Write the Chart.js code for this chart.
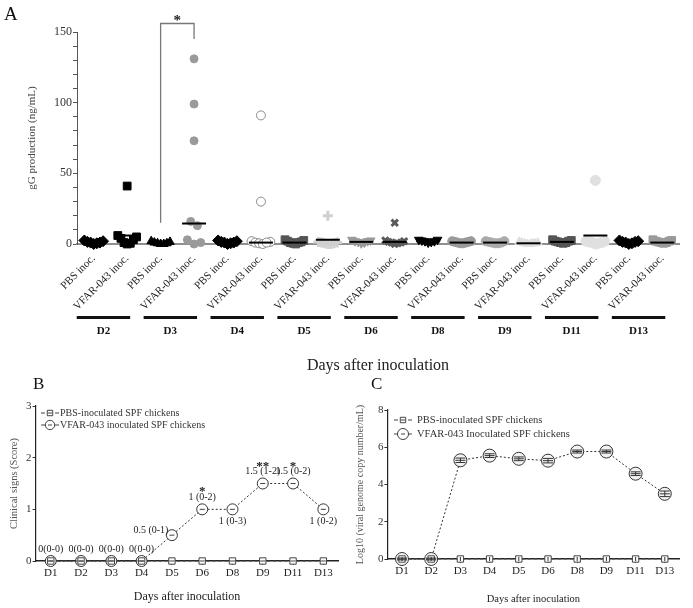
<!DOCTYPE html>
<html><head><meta charset="utf-8">
<script src="https://cdn.jsdelivr.net/npm/chart.js@4.4.1/dist/chart.umd.min.js"></script>
<style>
html,body{margin:0;padding:0;background:#fff;}
body{width:693px;height:608px;position:relative;overflow:hidden;font-family:'Liberation Serif',serif;}
.wrap{position:absolute;}
.plabel{position:absolute;font-family:'Liberation Serif',serif;color:#111;line-height:1;}
</style></head><body>
<div class="wrap" style="left:0;top:0;"><canvas id="cA" width="693" height="376"></canvas></div>
<div class="wrap" style="left:0;top:370px;"><canvas id="cB" width="345" height="238"></canvas></div>
<div class="wrap" style="left:345px;top:370px;"><canvas id="cC" width="348" height="238"></canvas></div>
<div class="plabel" style="left:4px;top:4px;font-size:19px;">A</div>
<div class="plabel" style="left:33px;top:375px;font-size:17px;">B</div>
<div class="plabel" style="left:371px;top:375px;font-size:17px;">C</div>
<script>
// ---------------- DATA ----------------
// Panel A: gG production (ng/mL), per day, individual birds
const dayLabelsA = ['D2','D3','D4','D5','D6','D8','D9','D11','D13'];
const inocLabels = ['PBS inoc.','VFAR-043 inoc.'];
const pbsGG = [
  [0, 1, 2, 1.5, 0.5, 2.5, 1],
  [0, 0.5, 1, 2, 0, 1.5, 0.5],
  [0.5, 1, 2, 1.5, 0, 2.5, 1],
  [0.5, 1, 2, 3, 1.5, 2.5, 0, 1],
  [1, 2, 3, 1.5, 2.5, 0.5, 2],
  [1, 2, 3, 2.5, 1.5, 3, 2],
  [0.5, 1, 2, 1.5, 1, 2, 0.5],
  [1, 2, 3, 2.5, 1.5, 2, 0.5, 1],
  [0.5, 1.5, 2.5, 1, 2, 0, 1.5]
];
const vfarGG = [
  [41, 6, 5, 4, 3, 1, 0.5, 0],
  [131, 99, 73, 16, 13, 3, 1, 0],
  [91, 30, 2, 1.5, 1, 0.5, 0, 1],
  [20, 1, 0.5, 0, 1.5, 0, 0.5, 1],
  [15, 2, 1.5, 1, 0.5, 2.5, 0, 1],
  [1, 2, 1.5, 0.5, 2, 1, 0.5, 1.5],
  [0.5, 1, 0, 1.5, 0.5, 1, 0, 0.5],
  [45, 2, 1.5, 1, 0.5, 0, 1, 2],
  [1, 2, 3, 1.5, 0.5, 2.5, 1, 2]
];
const pbsMedianGG  = [1, 0.5, 1, 1, 1.5, 2, 1, 1.5, 1.5];
const vfarMedianGG = [6, 14.5, 1, 3, 1.5, 1, 0.5, 6, 1];
const sigA = { from: 2, to: 3, lowLeft: 15, top: 156, lowRight: 145, mark: '*' };

// Panel B: clinical signs score (median)
const dayCats = ['D1','D2','D3','D4','D5','D6','D8','D9','D11','D13'];
const pbsScore  = [0, 0, 0, 0, 0, 0, 0, 0, 0, 0];
const vfarScore = [0, 0, 0, 0, 0.5, 1, 1, 1.5, 1.5, 1];
const scoreText = ['0(0-0)','0(0-0)','0(0-0)','0(0-0)','0.5 (0-1)','1 (0-2)','1 (0-3)','1.5 (1-2)','1.5 (0-2)','1 (0-2)'];
const scoreSig  = ['','','','','','*','','**','*',''];

// Panel C: Log10 viral genome copy number / mL
const pbsLoad  = [0, 0, 0, 0, 0, 0, 0, 0, 0, 0];
const vfarLoad = [0, 0, 5.3, 5.55, 5.38, 5.28, 5.77, 5.77, 4.58, 3.5];
const vfarLoadErr = [0.05, 0.05, 0.12, 0.1, 0.1, 0.12, 0.08, 0.08, 0.1, 0.15];

// ---------------- STYLES ----------------
const SERIF = "'Liberation Serif', serif";
Chart.defaults.font.family = SERIF;
Chart.defaults.color = '#222';
Chart.defaults.animation = false;

const pbsMarkers = [
  {s:'rectRot', f:'#000', r:5.5},
  {s:'triangle', f:'#000', r:5},
  {s:'rectRot', f:'#000', r:5.5},
  {s:'rect', f:'#555', r:5.5},
  {s:'triangle', f:'#999', r:5, rot:180},
  {s:'triangle', f:'#000', r:5, rot:180},
  {s:'circle', f:'#aaa', r:4.5},
  {s:'rect', f:'#555', r:5.5},
  {s:'rectRot', f:'#000', r:5.5}
];
const vfarMarkers = [
  {s:'rect', f:'#000', r:5.5},
  {s:'circle', f:'#9a9a9a', r:4},
  {s:'circle', f:'#fff', b:'#8a8a8a', r:4.5, bw:1},
  {s:'cross', f:'#ccc', b:'#cfcfcf', r:5, bw:3},
  {s:'crossRot', f:'#555', b:'#5a5a5a', r:4.5, bw:3},
  {s:'circle', f:'#9a9a9a', r:4.5},
  {s:'triangle', f:'#dedede', r:5},
  {s:'circle', f:'#e0e0e0', r:5},
  {s:'rect', f:'#9a9a9a', r:5.5}
];

// beeswarm-style horizontal spreading of close values around a category centre
function swarm(values, center) {
  const idx = values.map((v, i) => i).sort((a, b) => values[b] - values[a]);
  const out = new Array(values.length);
  let i = 0;
  while (i < idx.length) {
    let j = i;
    const start = values[idx[i]];
    while (j + 1 < idx.length && start - values[idx[j + 1]] < 7) j++;
    const n = j - i + 1;
    const step = n > 1 ? Math.min(0.2, 0.56 / (n - 1)) : 0;
    // slots alternate outer -> inner so the highest points sit at the edges
    const slots = [];
    let lo = 0, hi = n - 1;
    while (lo <= hi) { slots.push(lo++); if (lo <= hi) slots.push(hi--); }
    for (let k = 0; k < n; k++) {
      const vi = idx[i + k];
      out[vi] = { x: center + (slots[k] - (n - 1) / 2) * step, y: values[vi] };
    }
    i = j + 1;
  }
  return out;
}

// ---------------- PANEL A ----------------
const tickLabelsA = [];
dayLabelsA.forEach(() => tickLabelsA.push(inocLabels[0], inocLabels[1]));

const datasetsA = [];
dayLabelsA.forEach((d, k) => {
  [[pbsGG[k], pbsMarkers[k], inocLabels[0]], [vfarGG[k], vfarMarkers[k], inocLabels[1]]].forEach(([vals, m, lab], j) => {
    datasetsA.push({
      label: lab + ' ' + d,
      data: swarm(vals, 2 * k + j),
      pointStyle: m.s,
      pointRadius: m.r,
      pointRotation: m.rot || 0,
      backgroundColor: m.f,
      borderColor: m.b || m.f,
      borderWidth: m.bw || 1,
      clip: false,
      order: 2
    });
  });
});
const mediansA = [];
dayLabelsA.forEach((d, k) => { mediansA.push({x: 2 * k, y: pbsMedianGG[k]}, {x: 2 * k + 1, y: vfarMedianGG[k]}); });
datasetsA.push({
  label: 'Median', data: mediansA, pointStyle: 'line', pointRadius: 12,
  borderColor: '#000', backgroundColor: '#000', borderWidth: 2, clip: false, order: 0
});

const panelAPlugin = {
  id: 'panelA',
  afterDraw(chart) {
    const {ctx, scales: {x, y}} = chart;
    ctx.save();
    const barY = y.bottom + 72;
    dayLabelsA.forEach((d, k) => {
      const l = x.getPixelForValue(2 * k) - 17;
      const r = x.getPixelForValue(2 * k + 1) + 3;
      ctx.fillStyle = '#111';
      ctx.fillRect(l, barY, r - l, 3);
      ctx.font = 'bold 11px ' + SERIF;
      ctx.textAlign = 'center';
      ctx.textBaseline = 'middle';
      ctx.fillText(d, (l + r) / 2, barY + 15);
    });
    // significance bracket
    const x1 = x.getPixelForValue(sigA.from), x2 = x.getPixelForValue(sigA.to);
    const yt = y.getPixelForValue(sigA.top);
    ctx.strokeStyle = '#777';
    ctx.lineWidth = 1.3;
    ctx.beginPath();
    ctx.moveTo(x1, y.getPixelForValue(sigA.lowLeft));
    ctx.lineTo(x1, yt);
    ctx.lineTo(x2, yt);
    ctx.lineTo(x2, y.getPixelForValue(sigA.lowRight));
    ctx.stroke();
    ctx.fillStyle = '#222';
    ctx.font = 'bold 15px ' + SERIF;
    ctx.textAlign = 'center';
    ctx.textBaseline = 'alphabetic';
    ctx.fillText(sigA.mark, (x1 + x2) / 2, yt + 1);
    ctx.restore();
  }
};

new Chart(document.getElementById('cA'), {
  type: 'scatter',
  data: { datasets: datasetsA },
  options: {
    responsive: false,
    layout: { padding: { top: 32, right: 4, bottom: 1, left: 0 } },
    plugins: { legend: { display: false }, tooltip: { enabled: false } },
    scales: {
      x: {
        type: 'linear', min: -0.5, max: 17.5,
        afterBuildTicks: (axis) => { axis.ticks = tickLabelsA.map((_, i) => ({ value: i })); },
        afterFit: (axis) => { axis.height = 131; },
        ticks: {
          callback: (v) => tickLabelsA[v], autoSkip: false,
          minRotation: 45, maxRotation: 45, padding: 8,
          font: { size: 11 }, color: '#222'
        },
        grid: { display: false, drawTicks: false },
        border: { display: true, color: '#8f8f8f', width: 2 },
        title: { display: true, text: 'Days after inoculation', font: { size: 16 }, color: '#222', padding: { top: 0, bottom: 0 } }
      },
      y: {
        min: 0, max: 150,
        afterFit: (axis) => { axis.width = 77; },
        afterBuildTicks: (axis) => { const t = []; for (let v = 0; v <= 150; v += 10) t.push({ value: v }); axis.ticks = t; },
        ticks: { callback: (v) => (v % 50 === 0 ? v : ''), font: { size: 12 }, color: '#333', padding: 1, autoSkip: false },
        grid: { drawOnChartArea: false, drawTicks: true, tickLength: 4, color: '#555' },
        border: { display: true, color: '#555', width: 1 },
        title: { display: true, text: 'gG production (ng/mL)', font: { size: 11 }, color: '#444', padding: { top: 26, bottom: 0 } }
      }
    }
  },
  plugins: [panelAPlugin]
});

// ---------------- PANELS B & C helpers ----------------
function drawLegend(chart, cx, y0, gap, textX, fontPx) {
  const ctx = chart.ctx;
  ctx.save();
  chart.data.datasets.forEach((ds, i) => {
    const y = y0 + i * gap;
    ctx.strokeStyle = '#444';
    ctx.lineWidth = 1;
    ctx.setLineDash([]);
    ctx.beginPath();
    ctx.moveTo(cx - 9, y); ctx.lineTo(cx - 5, y);
    ctx.moveTo(cx + 5, y); ctx.lineTo(cx + 9, y);
    ctx.stroke();
    ctx.fillStyle = '#fff';
    Chart.helpers.drawPoint(ctx, { pointStyle: ds.pointStyle, radius: ds.pointRadius * 0.85, borderWidth: 1, rotation: 0 }, cx, y);
    ctx.beginPath(); ctx.moveTo(cx - 2, y); ctx.lineTo(cx + 2, y); ctx.stroke();
    ctx.fillStyle = '#333';
    ctx.font = fontPx + 'px ' + SERIF;
    ctx.textAlign = 'left';
    ctx.textBaseline = 'middle';
    ctx.fillText(ds.label, textX, y);
  });
  ctx.restore();
}
function drawInnerDash(chart, half) {
  const ctx = chart.ctx;
  ctx.save();
  ctx.strokeStyle = '#444';
  ctx.lineWidth = 1;
  chart.data.datasets.forEach((ds, i) => {
    chart.getDatasetMeta(i).data.forEach((pt) => {
      ctx.beginPath(); ctx.moveTo(pt.x - half, pt.y); ctx.lineTo(pt.x + half, pt.y); ctx.stroke();
    });
  });
  ctx.restore();
}

function lineScales(yMax, yStep, yTitle, yWidth, xHeight, titleSize, titlePadBottom, yTitlePad, yTitleSize) {
  return {
    x: {
      type: 'category', offset: true,
      afterFit: (axis) => { axis.height = xHeight; },
      ticks: { font: { size: 11 }, color: '#222', padding: 2 },
      grid: { drawOnChartArea: false, drawTicks: true, tickLength: 4, color: '#333' },
      border: { display: true, color: '#222', width: 1.5 },
      title: { display: true, text: 'Days after inoculation', font: { size: titleSize }, color: '#222', padding: { top: 0, bottom: titlePadBottom } }
    },
    y: {
      min: 0, max: yMax,
      afterFit: (axis) => { axis.width = yWidth; },
      ticks: { stepSize: yStep, font: { size: 11 }, color: '#333', padding: 1 },
      grid: { drawOnChartArea: false, drawTicks: true, tickLength: 3, color: '#333' },
      border: { display: true, color: '#222', width: 1.2 },
      title: { display: true, text: yTitle, font: { size: yTitleSize }, color: '#555', padding: { top: yTitlePad, bottom: 0 } }
    }
  };
}

// ---------------- PANEL B ----------------
const scorePlacement = ['above','above','above','above','left','above','below','above','above','below'];
const panelBPlugin = {
  id: 'panelB',
  afterDatasetsDraw(chart) { drawInnerDash(chart, 2.5); },
  afterDraw(chart) {
    const ctx = chart.ctx;
    const meta = chart.getDatasetMeta(1);
    ctx.save();
    ctx.fillStyle = '#222';
    ctx.textAlign = 'center';
    meta.data.forEach((pt, i) => {
      let tx = pt.x, ty = pt.y - 12;
      if (scorePlacement[i] === 'below') ty = pt.y + 12;
      if (scorePlacement[i] === 'left') { tx = pt.x - 21; ty = pt.y - 5; }
      ctx.font = '10px ' + SERIF;
      ctx.textBaseline = 'middle';
      ctx.fillText(scoreText[i], tx, ty);
      if (scoreSig[i]) {
        ctx.font = 'bold 13px ' + SERIF;
        ctx.textBaseline = 'alphabetic';
        ctx.fillText(scoreSig[i], pt.x, pt.y - 14);
      }
    });
    ctx.restore();
    drawLegend(chart, 50, 43, 12, 60, 10);
  }
};

new Chart(document.getElementById('cB'), {
  type: 'line',
  data: {
    labels: dayCats,
    datasets: [
      { label: 'PBS-inoculated SPF chickens', data: pbsScore, borderColor: '#444', borderWidth: 1, borderDash: [3, 3],
        pointStyle: 'rect', pointRadius: 4.5, pointBackgroundColor: '#fff', pointBorderColor: '#444', pointBorderWidth: 1, clip: false },
      { label: 'VFAR-043 inoculated SPF chickens', data: vfarScore, borderColor: '#333', borderWidth: 1, borderDash: [2, 2],
        pointStyle: 'circle', pointRadius: 5.5, pointBackgroundColor: 'rgba(255,255,255,0.9)', pointBorderColor: '#333', pointBorderWidth: 1, clip: false }
    ]
  },
  options: {
    responsive: false,
    layout: { padding: { top: 36, right: 2, bottom: 4, left: 0 } },
    plugins: { legend: { display: false }, tooltip: { enabled: false } },
    scales: lineScales(3, 1, 'Clinical signs (Score)', 35.6, 43, 12, 0, 8, 10.5)
  },
  plugins: [panelBPlugin]
});

// ---------------- PANEL C ----------------
const panelCPlugin = {
  id: 'panelC',
  afterDatasetsDraw(chart) {
    const ctx = chart.ctx;
    const ys = chart.scales.y;
    ctx.save();
    ctx.strokeStyle = '#333';
    ctx.lineWidth = 1;
    chart.getDatasetMeta(1).data.forEach((pt, i) => {
      const yh = ys.getPixelForValue(vfarLoad[i] + vfarLoadErr[i]);
      const yl = ys.getPixelForValue(vfarLoad[i] - vfarLoadErr[i]);
      ctx.beginPath();
      ctx.moveTo(pt.x, yh); ctx.lineTo(pt.x, yl);
      ctx.moveTo(pt.x - 5, yh); ctx.lineTo(pt.x + 5, yh);
      ctx.moveTo(pt.x - 5, yl); ctx.lineTo(pt.x + 5, yl);
      ctx.moveTo(pt.x - 5, pt.y); ctx.lineTo(pt.x + 5, pt.y);
      ctx.stroke();
    });
    chart.getDatasetMeta(0).data.forEach((pt) => {
      ctx.beginPath(); ctx.moveTo(pt.x, pt.y - 2); ctx.lineTo(pt.x, pt.y + 2); ctx.stroke();
    });
    ctx.restore();
  },
  afterDraw(chart) { drawLegend(chart, 58, 50, 14, 72, 10.5); }
};

new Chart(document.getElementById('cC'), {
  type: 'line',
  data: {
    labels: dayCats,
    datasets: [
      { label: 'PBS-inoculated SPF chickens', data: pbsLoad, borderColor: '#555', borderWidth: 1, borderDash: [3, 3],
        pointStyle: 'rect', pointRadius: 4.5, pointBackgroundColor: '#fff', pointBorderColor: '#444', pointBorderWidth: 1, clip: false },
      { label: 'VFAR-043 Inoculated SPF chickens', data: vfarLoad, borderColor: '#333', borderWidth: 1, borderDash: [2, 2],
        pointStyle: 'circle', pointRadius: 6.5, pointBackgroundColor: '#f2f2f2', pointBorderColor: '#333', pointBorderWidth: 1, clip: false }
    ]
  },
  options: {
    responsive: false,
    layout: { padding: { top: 40, right: 13.6, bottom: 2, left: 0 } },
    plugins: { legend: { display: false }, tooltip: { enabled: false } },
    scales: lineScales(8, 2, 'Log10 (viral genome copy number/mL)', 42.4, 47, 10.5, 0, 9, 10)
  },
  plugins: [panelCPlugin]
});
</script>
</body></html>
